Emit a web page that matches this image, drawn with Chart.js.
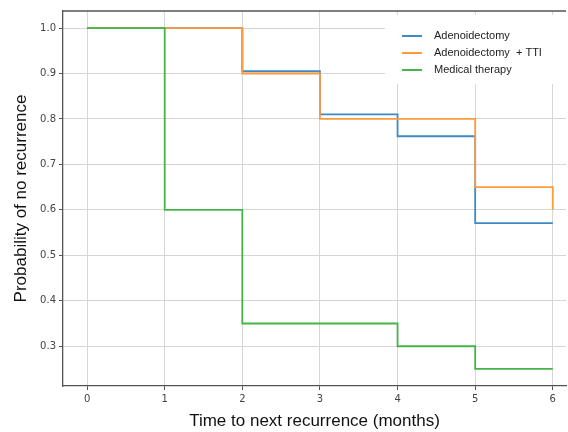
<!DOCTYPE html>
<html>
<head>
<meta charset="utf-8">
<script src="https://cdn.jsdelivr.net/npm/chart.js@4/dist/chart.umd.min.js"></script>
<style>
  html, body { margin: 0; background: #fff; }
</style>
</head>
<body>
<canvas id="km" width="568" height="432"></canvas>
<script>
// months since treatment, survival (no recurrence) estimates per arm
const months = [0, 1, 2, 3, 4, 5, 6];
const adenoidectomy = [1.0, 1.0, 0.905, 0.81, 0.762, 0.571, 0.571];
const adenoidectomyTTI = [1.0, 1.0, 0.9, 0.8, 0.8, 0.65, 0.6];
const medicalTherapy = [1.0, 0.6, 0.35, 0.35, 0.3, 0.25, 0.25];
const seriesNames = ['Adenoidectomy', 'Adenoidectomy  + TTI', 'Medical therapy'];
const xTicks = [0, 1, 2, 3, 4, 5, 6];
const yTicks = [0.3, 0.4, 0.5, 0.6, 0.7, 0.8, 0.9, 1.0];

const colors = ['#3d8ac4', '#ff9a3c', '#45b545'];

const toPoints = vals => months.map((m, i) => ({ x: m, y: vals[i] }));

const tickFont = { family: 'DejaVu Sans', size: 10 };

// legend box inside the plot, plus top spine
const insideLegend = {
    id: 'insideLegend',
    beforeDatasetsDraw(chart) {
        const c = chart.ctx;
        c.save();
        c.fillStyle = '#fff';
        c.fillRect(385, 15, 190, 69);
        c.restore();
    },
    afterDatasetsDraw(chart) {
        const c = chart.ctx;
        const area = chart.chartArea;
        c.save();
        c.strokeStyle = '#555';
        c.lineWidth = 1.3;
        c.beginPath();
        c.moveTo(area.left, area.top);
        c.lineTo(area.right, area.top);
        c.stroke();

        c.font = '11px "Liberation Sans"';
        c.textBaseline = 'middle';
        chart.data.datasets.forEach((ds, i) => {
            const y = 36 + i * 17;
            c.strokeStyle = ds.borderColor;
            c.lineWidth = 2;
            c.beginPath();
            c.moveTo(402, y);
            c.lineTo(422, y);
            c.stroke();
            c.fillStyle = '#222';
            c.fillText(ds.label, 434, y);
        });
        c.restore();
    }
};

new Chart(document.getElementById('km').getContext('2d'), {
    type: 'line',
    data: {
        datasets: [adenoidectomy, adenoidectomyTTI, medicalTherapy].map((vals, i) => ({
            label: seriesNames[i],
            data: toPoints(vals),
            borderColor: colors[i],
            borderWidth: 1.8,
            pointRadius: 0,
            stepped: 'before',
            fill: false,
            order: 2 - i   // later series drawn on top, as in the original
        }))
    },
    options: {
        responsive: false,
        animation: false,
        layout: { padding: { top: 11, right: 2, left: 0, bottom: 0 } },
        plugins: {
            legend: { display: false },
            tooltip: { enabled: false }
        },
        scales: {
            x: {
                type: 'linear',
                min: -0.31,
                max: 6.17,
                afterBuildTicks: s => { s.ticks = xTicks.map(v => ({ value: v })); },
                afterFit: s => { s.height = 46; },
                grid: { color: '#d6d6d6', lineWidth: 1, tickColor: '#555', tickLength: 4 },
                border: { color: '#555', width: 1.3 },
                ticks: { font: tickFont, color: '#444', padding: 3, maxRotation: 0 },
                title: {
                    display: true,
                    text: 'Time to next recurrence (months)',
                    font: { family: 'Liberation Sans', size: 17 },
                    color: '#111',
                    padding: { top: 6, bottom: 0 }
                }
            },
            y: {
                min: 0.2125,
                max: 1.0375,
                afterBuildTicks: s => { s.ticks = yTicks.map(v => ({ value: v })); },
                afterFit: s => { s.width = 63; },
                grid: { color: '#d6d6d6', lineWidth: 1, tickColor: '#555', tickLength: 4 },
                border: { color: '#555', width: 1.3 },
                ticks: {
                    font: tickFont,
                    color: '#444',
                    padding: 3,
                    callback: v => v.toFixed(1)
                },
                title: {
                    display: true,
                    text: 'Probability of no recurrence',
                    font: { family: 'Liberation Sans', size: 17 },
                    color: '#111',
                    padding: { top: 11, bottom: 4 }
                }
            }
        }
    },
    plugins: [insideLegend]
});
</script>
</body>
</html>
